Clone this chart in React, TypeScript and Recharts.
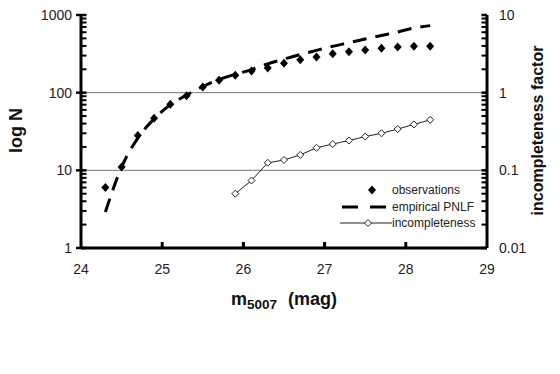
import { ComposedChart, Line, Scatter, XAxis, YAxis, ReferenceLine, Label } from 'recharts'

// magnitude bins (m5007)
const magnitudes = [24.3, 24.5, 24.7, 24.9, 25.1, 25.3, 25.5, 25.7, 25.9, 26.1, 26.3, 26.5, 26.7, 26.9, 27.1, 27.3, 27.5, 27.7, 27.9, 28.1, 28.3]
const observedN = [6, 11, 28, 47, 71, 91, 118, 145, 168, 190, 208, 240, 265, 288, 316, 336, 355, 374, 386, 397, 397]
const pnlfN = [2.9, 11, 26, 46, 70, 93, 120, 148, 172, 198, 235, 270, 310, 350, 395, 440, 490, 545, 605, 680, 730]

const incMagnitudes = [25.9, 26.1, 26.3, 26.5, 26.7, 26.9, 27.1, 27.3, 27.5, 27.7, 27.9, 28.1, 28.3]
const incFactor = [0.05, 0.074, 0.125, 0.136, 0.158, 0.195, 0.218, 0.242, 0.272, 0.3, 0.34, 0.39, 0.447]

const xTicks = [24, 25, 26, 27, 28, 29]
const leftMajor = [1, 10, 100, 1000]
const leftMinor = [2, 3, 4, 5, 6, 7, 8, 9, 20, 30, 40, 50, 60, 70, 80, 90, 200, 300, 400, 500, 600, 700, 800, 900]
const rightMajor = [0.01, 0.1, 1, 10]
const rightMinor = [0.02, 0.03, 0.04, 0.05, 0.06, 0.07, 0.08, 0.09, 0.2, 0.3, 0.4, 0.5, 0.6, 0.7, 0.8, 0.9, 2, 3, 4, 5, 6, 7, 8, 9]

const obsData = magnitudes.map((m, i) => ({ m, n: observedN[i] }))
const pnlfData = magnitudes.map((m, i) => ({ m, n: pnlfN[i] }))
const incData = incMagnitudes.map((m, i) => ({ m, f: incFactor[i] }))

const FONT = '"Liberation Sans", Arial, sans-serif'
const TICK_COLOR = '#222'

function BottomTick({ x, y, payload }: any) {
  const v = payload.value
  const inner = v > 24 && v < 29
  return (
    <g>
      {inner && <line x1={x} x2={x} y1={y} y2={y - 6} stroke="#000" strokeWidth={3} />}
      <text x={x} y={y + 26} textAnchor="middle" fontSize={14} fontFamily={FONT} fill={TICK_COLOR}>
        {v}
      </text>
    </g>
  )
}

function TopTick({ x, y, payload }: any) {
  const v = payload.value
  if (v <= 24 || v >= 29) return <g />
  return <line x1={x} x2={x} y1={y} y2={y + 7} stroke="#000" strokeWidth={3} />
}

function LeftTick({ x, y, payload }: any) {
  const v = payload.value
  if (!leftMajor.includes(v)) {
    return <line x1={x} x2={x + 5.5} y1={y} y2={y} stroke="#000" strokeWidth={2} />
  }
  return (
    <g>
      <line x1={x - 5} x2={x + 5.5} y1={y} y2={y} stroke="#000" strokeWidth={2.5} />
      <text x={x - 9} y={y} dy="0.36em" textAnchor="end" fontSize={14} fontFamily={FONT} fill={TICK_COLOR}>
        {v}
      </text>
    </g>
  )
}

function RightTick({ x, y, payload }: any) {
  const v = payload.value
  if (!rightMajor.includes(v)) {
    return <line x1={x - 5.5} x2={x} y1={y} y2={y} stroke="#000" strokeWidth={2} />
  }
  return (
    <g>
      <line x1={x - 5.5} x2={x} y1={y} y2={y} stroke="#000" strokeWidth={2.5} />
      <text x={x + 12} y={y} dy="0.36em" textAnchor="start" fontSize={14} fontFamily={FONT} fill={TICK_COLOR}>
        {v}
      </text>
    </g>
  )
}

function FilledDiamond({ cx, cy }: any) {
  if (cx == null || cy == null) return <g />
  return <polygon points={`${cx},${cy - 4.5} ${cx + 4},${cy} ${cx},${cy + 4.5} ${cx - 4},${cy}`} fill="#000" />
}

function HollowDiamond({ cx, cy }: any) {
  if (cx == null || cy == null) return <g />
  return (
    <polygon
      points={`${cx},${cy - 3.5} ${cx + 3.5},${cy} ${cx},${cy + 3.5} ${cx - 3.5},${cy}`}
      fill="#fff"
      stroke="#222"
      strokeWidth={1}
    />
  )
}

function XTitle({ viewBox }: any) {
  const cx = viewBox.x + viewBox.width / 2
  const by = viewBox.y + 57
  return (
    <text x={cx} y={by} textAnchor="middle" fontFamily={FONT} fontWeight="bold" fontSize={18} fill="#111">
      m
      <tspan fontSize={13.5} dy={4}>5007</tspan>
      <tspan dy={-4} dx={11}>(mag)</tspan>
    </text>
  )
}

function LeftTitle({ viewBox }: any) {
  const x = viewBox.x + 22
  const y = viewBox.y + viewBox.height / 2 - 1
  return (
    <text x={x} y={y} transform={`rotate(-90 ${x} ${y})`} textAnchor="middle" fontFamily={FONT} fontWeight="bold" fontSize={18} fill="#111">
      log N
    </text>
  )
}

function RightTitle({ viewBox }: any) {
  const x = viewBox.x + 56
  const y = viewBox.y + viewBox.height / 2 - 1
  return (
    <text x={x} y={y} transform={`rotate(-90 ${x} ${y})`} textAnchor="middle" fontFamily={FONT} fontWeight="bold" fontSize={16} fill="#111">
      incompleteness factor
    </text>
  )
}

function LegendBox() {
  const row = { display: 'flex', alignItems: 'center', height: 16.5 } as const
  const text = { fontFamily: FONT, fontSize: 12, color: '#222', marginLeft: 0 }
  return (
    <div style={{ position: 'absolute', left: 340, top: 182 }}>
      <div style={row}>
        <svg width={52} height={16}>
          <polygon points="32,3.5 36,8 32,12.5 28,8" fill="#000" />
        </svg>
        <span style={text}>observations</span>
      </div>
      <div style={row}>
        <svg width={52} height={16}>
          <line x1={2} x2={52} y1={8} y2={8} stroke="#000" strokeWidth={3} strokeDasharray="16 12" />
        </svg>
        <span style={text}>empirical PNLF</span>
      </div>
      <div style={row}>
        <svg width={52} height={16}>
          <line x1={0} x2={52} y1={8} y2={8} stroke="#222" strokeWidth={1} />
          <polygon points="28,4.5 31.5,8 28,11.5 24.5,8" fill="#fff" stroke="#222" />
        </svg>
        <span style={text}>incompleteness</span>
      </div>
    </div>
  )
}

export default function App() {
  return (
    <div style={{ position: 'absolute', left: 0, top: 0, width: 560, height: 374, background: '#fff' }}>
      <ComposedChart width={560} height={374} margin={{ top: 15, right: 0, bottom: 66, left: 0 }}>
        <XAxis
          dataKey="m"
          type="number"
          domain={[24, 29]}
          ticks={xTicks}
          interval={0}
          allowDataOverflow
          height={60}
          tickSize={0}
          tickMargin={0}
          axisLine={{ stroke: '#000', strokeWidth: 3 }}
          tickLine={false}
          tick={(p: any) => <BottomTick {...p} />}
        >
          <Label content={(p: any) => <XTitle {...p} />} />
        </XAxis>
        <XAxis
          xAxisId="top"
          orientation="top"
          dataKey="m"
          type="number"
          domain={[24, 29]}
          ticks={xTicks}
          interval={0}
          allowDataOverflow
          height={0}
          tickSize={0}
          tickMargin={0}
          axisLine={{ stroke: '#000', strokeWidth: 3 }}
          tickLine={false}
          tick={(p: any) => <TopTick {...p} />}
        />
        <YAxis
          yAxisId="left"
          scale="log"
          domain={[1, 1000]}
          ticks={[...leftMajor, ...leftMinor]}
          interval={0}
          allowDataOverflow
          width={81}
          tickSize={0}
          tickMargin={0}
          axisLine={{ stroke: '#000', strokeWidth: 3 }}
          tickLine={false}
          tick={(p: any) => <LeftTick {...p} />}
        >
          <Label content={(p: any) => <LeftTitle {...p} />} />
        </YAxis>
        <YAxis
          yAxisId="right"
          orientation="right"
          scale="log"
          domain={[0.01, 10]}
          ticks={[...rightMajor, ...rightMinor]}
          interval={0}
          allowDataOverflow
          width={73}
          tickSize={0}
          tickMargin={0}
          axisLine={{ stroke: '#000', strokeWidth: 3 }}
          tickLine={false}
          tick={(p: any) => <RightTick {...p} />}
        >
          <Label content={(p: any) => <RightTitle {...p} />} />
        </YAxis>
        <ReferenceLine yAxisId="left" y={10} stroke="#777" strokeWidth={1} />
        <ReferenceLine yAxisId="left" y={100} stroke="#777" strokeWidth={1} />
        <Line
          yAxisId="left"
          data={pnlfData}
          dataKey="n"
          type="monotone"
          stroke="#000"
          strokeWidth={3}
          strokeDasharray="14 9"
          dot={false}
          activeDot={false}
          isAnimationActive={false}
        />
        <Scatter yAxisId="left" data={obsData} dataKey="n" shape={(p: any) => <FilledDiamond {...p} />} isAnimationActive={false} />
        <Line
          yAxisId="right"
          data={incData}
          dataKey="f"
          type="linear"
          stroke="#222"
          strokeWidth={1}
          dot={(p: any) => <HollowDiamond key={p.index} {...p} />}
          activeDot={false}
          isAnimationActive={false}
        />
      </ComposedChart>
      <LegendBox />
    </div>
  )
}
